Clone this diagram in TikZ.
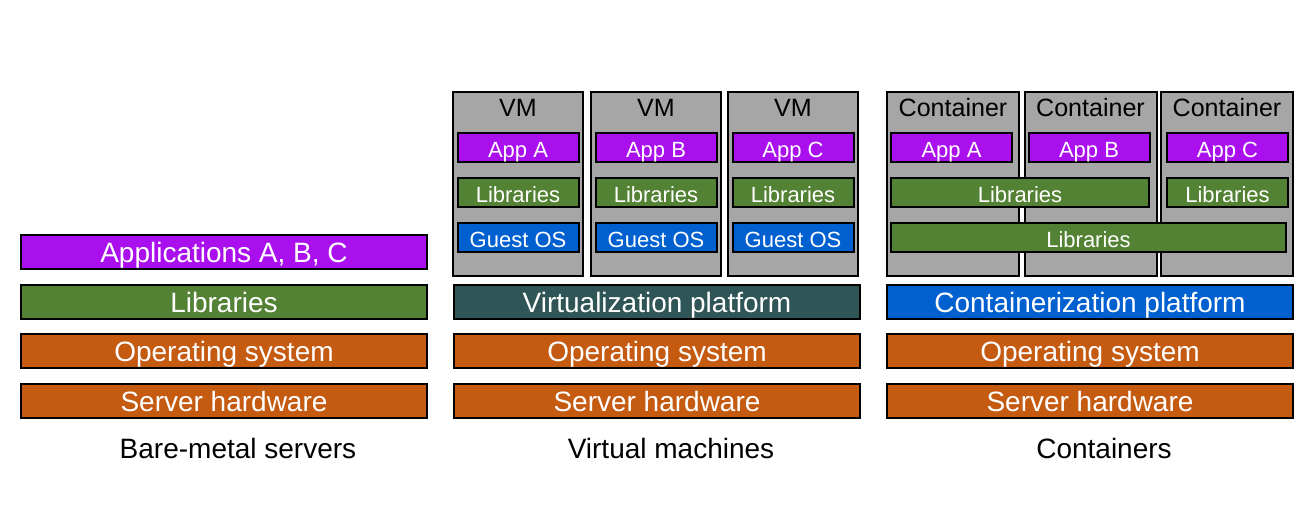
\documentclass[tikz,border=0pt]{standalone}
\usepackage{fontspec}
\setmainfont{Liberation Sans}
\usepackage{tikz}
\usetikzlibrary{positioning}
\definecolor{apppurple}{RGB}{170, 16, 238}
\definecolor{libgreen}{RGB}{84, 130, 53}
\definecolor{osorange}{RGB}{197, 90, 17}
\definecolor{virtteal}{RGB}{47, 85, 87}
\definecolor{contblue}{RGB}{0, 96, 208}
\definecolor{boxgray}{RGB}{166, 166, 166}
\newcommand{\layerfont}{\fontsize{21}{24}\selectfont}
\newcommand{\slotfont}{\fontsize{16.5}{19}\selectfont}
\newcommand{\headfont}{\fontsize{18.8}{21}\selectfont}

\begin{document}
\begin{tikzpicture}[x=0.75pt, y=-0.75pt,
  layer/.style={draw=black, line width=1.5pt, text=white, inner sep=0pt,
    minimum width=304.5pt, minimum height=25.5pt, font=\layerfont,
    text height=15pt, text depth=0pt},
  slot/.style={draw=black, line width=1.5pt, text=white, inner sep=0pt,
    minimum width=90.75pt, minimum height=21.75pt, font=\slotfont,
    text height=14.4pt, text depth=0pt},
  guest/.style={draw=black, line width=1.5pt, fill=boxgray, inner sep=0pt,
    minimum width=97.5pt, minimum height=138pt},
  caption/.style={font=\layerfont, text=black, inner sep=0pt,
    text height=15pt, text depth=0pt}]
  \useasboundingbox (0,0) rectangle (1316,507);

  % Bare-metal servers
  \node[layer, fill=apppurple] (apps) at (224, 252) {Applications A, B, C};
  \node[layer, fill=libgreen] (libs) at (224, 302) {Libraries};
  \node[layer, fill=osorange] (os1) at (224, 351) {Operating system};
  \node[layer, fill=osorange] (hw1) at (224, 401) {Server hardware};
  \node[caption] (cap1) at (238, 448) {Bare-metal servers};

  % Virtual machines
  \node[layer, fill=virtteal] (virt) at (657, 302) {Virtualization platform};
  \node[layer, fill=osorange] (os2) at (657, 351) {Operating system};
  \node[layer, fill=osorange] (hw2) at (657, 401) {Server hardware};
  \node[caption] (cap2) at (671, 448) {Virtual machines};

  \node[guest] (vm1) at (518, 184) {};
  \node[guest] (vm2) at (656, 184) {};
  \node[guest] (vm3) at (793, 184) {};
  \node[font=\headfont] (vmlab1) at (518, 108) {VM};
  \node[font=\headfont] (vmlab2) at (656, 108) {VM};
  \node[font=\headfont] (vmlab3) at (793, 108) {VM};

  \node[slot, fill=apppurple] (vmapp1) at (518, 147.5) {App A};
  \node[slot, fill=apppurple] (vmapp2) at (656, 147.5) {App B};
  \node[slot, fill=apppurple] (vmapp3) at (793, 147.5) {App C};
  \node[slot, fill=libgreen] (vmlib1) at (518, 192.5) {Libraries};
  \node[slot, fill=libgreen] (vmlib2) at (656, 192.5) {Libraries};
  \node[slot, fill=libgreen] (vmlib3) at (793, 192.5) {Libraries};
  \node[slot, fill=contblue] (vmos1) at (518, 237.5) {Guest OS};
  \node[slot, fill=contblue] (vmos2) at (656, 237.5) {Guest OS};
  \node[slot, fill=contblue] (vmos3) at (793, 237.5) {Guest OS};

  % Containers
  \node[layer, fill=contblue] (cont) at (1090, 302) {Containerization platform};
  \node[layer, fill=osorange] (os3) at (1090, 351) {Operating system};
  \node[layer, fill=osorange] (hw3) at (1090, 401) {Server hardware};
  \node[caption] (cap3) at (1104, 448) {Containers};

  \node[guest, minimum width=99pt] (ct1) at (953, 184) {};
  \node[guest, minimum width=99pt] (ct2) at (1090.5, 184) {};
  \node[guest, minimum width=99pt] (ct3) at (1227, 184) {};
  \node[font=\headfont] (ctlab1) at (953, 108) {Container};
  \node[font=\headfont] (ctlab2) at (1090.5, 108) {Container};
  \node[font=\headfont] (ctlab3) at (1227, 108) {Container};

  \node[slot, fill=apppurple] (ctapp1) at (951.5, 147.5) {App A};
  \node[slot, fill=apppurple] (ctapp2) at (1089, 147.5) {App B};
  \node[slot, fill=apppurple] (ctapp3) at (1227.5, 147.5) {App C};
  \node[slot, fill=libgreen, minimum width=193.5pt] (ctlib12) at (1020, 192.5) {Libraries};
  \node[slot, fill=libgreen] (ctlib3) at (1227.5, 192.5) {Libraries};
  \node[slot, fill=libgreen, minimum width=296.25pt] (ctlib) at (1088.5, 237.5) {Libraries};
\end{tikzpicture}
\end{document}
